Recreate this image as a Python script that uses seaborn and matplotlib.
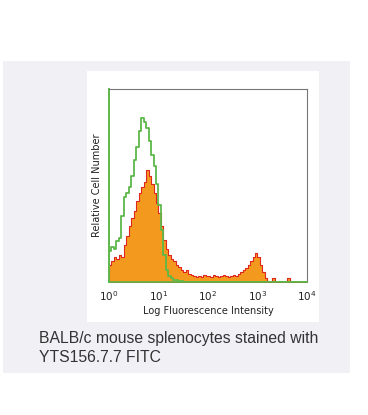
import numpy as np
import pandas as pd
import matplotlib
matplotlib.use("Agg")
import matplotlib.pyplot as plt
import seaborn as sns

# bin centres on a log10 scale (0.05 decade bins, 10^0 .. 10^4)
log_centres = np.arange(0.025, 4.0, 0.05)

# isotype control (green outline), relative counts
control = [16, 18, 17, 21, 23, 34, 44, 46, 49, 55,
           63, 70, 78, 85, 83, 80, 73, 66, 60, 51,
           40, 27, 14, 6, 3, 2, 1, 1, 0.5, 0.5] + [0] * 50

# YTS156.7.7 FITC stained (orange fill, red edge)
stained = [9, 11, 13, 12, 14, 13, 19, 24, 29, 33,
           37, 42, 46, 49, 52, 58, 55, 51, 46, 41,
           36, 29, 22, 17, 14, 12, 11, 9, 8, 6,
           5, 6, 4, 3.5, 3, 2.5, 3, 2.5, 3.5, 3,
           3, 2.5, 3.5, 3, 2.5, 3, 3.5, 3, 2.5, 3,
           3.5, 3, 4, 5, 6, 7, 9, 11, 13, 15,
           13, 9, 5, 2, 0.5, 0, 2, 0, 0, 0,
           0, 0, 2, 0, 0, 0, 0, 0, 0, 0]

x_ticks = [1, 10, 100, 1000, 10000]
x_ticklabels = ["$10^0$", "$10^1$", "$10^2$", "$10^3$", "$10^4$"]

df = pd.DataFrame({"intensity": 10 ** log_centres,
                   "control": control,
                   "stained": stained})

sns.set_style("white")
plt.rcParams["font.family"] = ["DejaVu Sans"]

fig = plt.figure(figsize=(3.68, 4.15), dpi=100)
fig.patch.set_facecolor("white")

# light grey-lavender backdrop panel
fig.patches.append(plt.Rectangle((3 / 368, 1 - 373 / 415), 347 / 368, 312 / 415,
                                 transform=fig.transFigure, facecolor="#F1F0F5",
                                 edgecolor="none", zorder=0))
# white card behind the plot
fig.patches.append(plt.Rectangle((87 / 368, 1 - 322 / 415), 232 / 368, 251 / 415,
                                 transform=fig.transFigure, facecolor="white",
                                 edgecolor="none", zorder=0))

ax = fig.add_axes([109 / 368, 1 - 282 / 415, 198 / 368, 193 / 415])
ax.set_zorder(2)
ax.set_facecolor("white")

sns.histplot(data=df, x="intensity", weights="stained", binwidth=0.05, binrange=(0, 4),
             log_scale=True, element="step", fill=True, color="#F39A1E", alpha=1.0,
             edgecolor="#E0271E", linewidth=0.8, ax=ax)
sns.histplot(data=df, x="intensity", weights="control", binwidth=0.05, binrange=(0, 4),
             log_scale=True, element="step", fill=False, color="#5DB84A",
             linewidth=1.3, ax=ax)

ax.set_xlim(1, 10000)
ax.set_ylim(0, 100)
ax.set_xticks(x_ticks)
ax.set_xticklabels(x_ticklabels, fontsize=7.5, color="#222222")
ax.minorticks_off()
ax.set_yticks([])
ax.tick_params(axis="x", length=0, pad=5)
ax.set_xlabel("Log Fluorescence Intensity", fontsize=7, color="#222222", labelpad=2)
ax.set_ylabel("Relative Cell Number", fontsize=7, color="#222222", labelpad=5)

for side in ["top", "right"]:
    ax.spines[side].set_color("#777777")
    ax.spines[side].set_linewidth(0.8)
ax.spines["left"].set_color("#5DB84A")
ax.spines["left"].set_linewidth(1.4)
ax.spines["bottom"].set_color("#5DB84A")
ax.spines["bottom"].set_linewidth(1.2)

fig.text(39 / 368, 1 - 338 / 415, "BALB/c mouse splenocytes stained with",
         fontsize=11.3, family="Liberation Sans", color="#333333", va="center")
fig.text(39 / 368, 1 - 357 / 415, "YTS156.7.7 FITC",
         fontsize=11.3, family="Liberation Sans", color="#333333", va="center")

fig.savefig("out.png", dpi=100)
